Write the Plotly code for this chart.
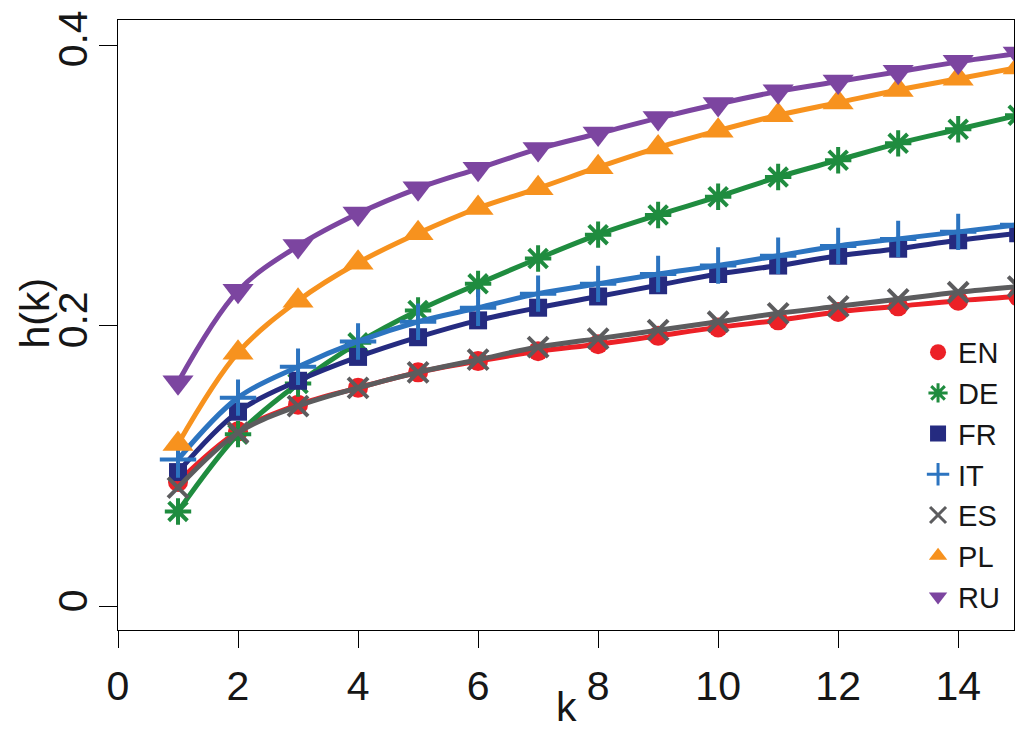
import plotly.graph_objects as go

k = list(range(1, 16))
EN = [0.089, 0.125, 0.144, 0.156, 0.167, 0.175, 0.182, 0.187, 0.193, 0.199, 0.204, 0.210, 0.214, 0.218, 0.221]
DE = [0.068, 0.123, 0.159, 0.188, 0.211, 0.230, 0.248, 0.265, 0.279, 0.292, 0.306, 0.318, 0.330, 0.340, 0.350]
FR = [0.096, 0.139, 0.161, 0.178, 0.192, 0.204, 0.213, 0.221, 0.229, 0.237, 0.243, 0.250, 0.255, 0.261, 0.266]
IT = [0.105, 0.149, 0.171, 0.189, 0.203, 0.213, 0.223, 0.230, 0.237, 0.243, 0.250, 0.257, 0.262, 0.267, 0.272]
ES = [0.085, 0.124, 0.143, 0.156, 0.167, 0.176, 0.185, 0.191, 0.197, 0.203, 0.209, 0.214, 0.219, 0.224, 0.228]
PL = [0.116, 0.181, 0.218, 0.245, 0.266, 0.284, 0.298, 0.313, 0.327, 0.339, 0.350, 0.359, 0.368, 0.376, 0.384]
RU = [0.160, 0.225, 0.257, 0.280, 0.298, 0.312, 0.326, 0.337, 0.348, 0.358, 0.367, 0.374, 0.381, 0.388, 0.394]

names = ["EN", "DE", "FR", "IT", "ES", "PL", "RU"]
series = [EN, DE, FR, IT, ES, PL, RU]
colors = ["#EC2127", "#1F8C3F", "#252B80", "#2C74C0", "#5C5C5E", "#F7921E", "#7C45A0"]
symbols = ["circle", "asterisk-open", "square", "cross-thin-open", "x-thin-open", "triangle-up", "triangle-down"]
sizes = [20, 22, 18, 26, 20, 27, 27]

xticks = [0, 2, 4, 6, 8, 10, 12, 14]
yticks = [0, 0.2, 0.4]
ytick_text = ["0", "0.2", "0.4"]

FONT = "Liberation Sans, Arial, Helvetica, sans-serif"
TXT = "#161616"

fig = go.Figure()
for nm, ys, c, s, sz in zip(names, series, colors, symbols, sizes):
    open_sym = s.endswith("-open")
    fig.add_trace(go.Scatter(
        x=k, y=ys, mode="lines+markers", name=nm, showlegend=False,
        line=dict(color=c, width=5, shape="spline", smoothing=1.0),
        marker=dict(symbol=s, size=sz, color=c,
                    line=dict(color=c, width=4 if open_sym else 0)),
    ))
for nm, c, s, sz in zip(names, colors, symbols, sizes):
    open_sym = s.endswith("-open")
    fig.add_trace(go.Scatter(
        x=[None], y=[None], mode="markers", name=nm, showlegend=True,
        marker=dict(symbol=s, size=sz, color=c,
                    line=dict(color=c, width=3 if open_sym else 0)),
    ))

fig.update_layout(
    width=1025, height=737,
    margin=dict(l=118, r=11, t=20, b=107),
    paper_bgcolor="white", plot_bgcolor="white",
    showlegend=True,
    legend=dict(x=0.99, y=0.497, xanchor="right", yanchor="top",
                font=dict(family=FONT, size=29, color=TXT),
                bgcolor="rgba(0,0,0,0)", tracegroupgap=0, itemsizing="trace"),
    xaxis=dict(
        range=[0, 14.93], tickmode="array", tickvals=xticks,
        ticks="outside", ticklen=17, tickwidth=1, tickcolor="black",
        showline=True, linecolor="black", linewidth=1.2, mirror=True,
        showgrid=False, zeroline=False, automargin=False,
        tickfont=dict(family=FONT, size=41, color=TXT),
        ticklabelstandoff=3,
    ),
    yaxis=dict(
        range=[-0.0164, 0.4178], tickmode="array", tickvals=yticks, ticktext=ytick_text,
        ticks="outside", ticklen=18, tickwidth=1, tickcolor="black",
        showline=True, linecolor="black", linewidth=1.2, mirror=True,
        showgrid=False, zeroline=False, tickangle=-90, automargin=False,
        tickfont=dict(family=FONT, size=41, color=TXT),
        ticklabelstandoff=-4,
    ),
    annotations=[
        dict(text="k", xref="paper", yref="paper", x=0.5, y=-0.127,
             xanchor="center", yanchor="middle", showarrow=False,
             font=dict(family=FONT, size=41, color=TXT)),
        dict(text="h(k)", xref="paper", yref="paper", x=-0.093, y=0.52,
             xanchor="center", yanchor="middle", showarrow=False, textangle=-90,
             font=dict(family=FONT, size=41, color=TXT)),
    ],
)

fig.write_html("out.html")
